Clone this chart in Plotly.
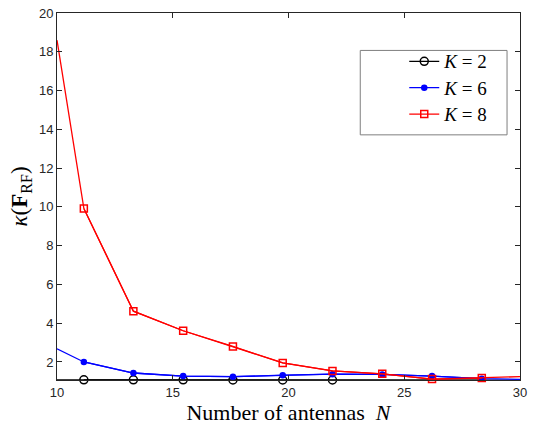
import plotly.graph_objects as go

# Data
N_line = [10, 11.16, 13.3, 15.45, 17.6, 19.75, 21.9, 24.05, 26.2, 28.35, 30]
N_mark = [11.16, 13.3, 15.45, 17.6, 19.75, 21.9, 24.05, 26.2, 28.35]

k2 = [1.08, 1.08, 1.08, 1.08, 1.07, 1.07, 1.07, 1.05, 1.05, 1.05, 1.06]
k6 = [2.68, 2.0, 1.43, 1.27, 1.24, 1.32, 1.37, 1.36, 1.27, 1.14, 1.1]
k8 = [18.6, 9.92, 4.62, 3.61, 2.8, 1.95, 1.54, 1.39, 1.12, 1.17, 1.24]

names = ["<i>K</i> = 2", "<i>K</i> = 6", "<i>K</i> = 8"]
colors = ["#000000", "#0000ff", "#ff0000"]
symbols = ["circle-open", "circle", "square-open"]
sizes = [8, 5, 7]

x_ticks = [10, 15, 20, 25, 30]
y_ticks = [2, 4, 6, 8, 10, 12, 14, 16, 18, 20]

fig = go.Figure()
for vals, name, col, sym, sz in zip([k2, k6, k8], names, colors, symbols, sizes):
    # full line (no markers at endpoints)
    fig.add_trace(go.Scatter(x=N_line, y=vals, mode="lines",
                             line=dict(color=col, width=1.3),
                             showlegend=False, hoverinfo="skip"))
    fig.add_trace(go.Scatter(x=N_mark, y=vals[1:-1], mode="lines+markers",
                             name='<span style="font-size:19px">' + name + '</span>',
                             line=dict(color=col, width=1.3),
                             marker=dict(symbol=sym, size=sz, color=col,
                                         line=dict(color=col, width=1.5)),
                             cliponaxis=False))

axis_common = dict(showline=True, linecolor="#262626", linewidth=1, mirror="allticks",
                   ticks="inside", ticklen=5, tickcolor="#262626", showgrid=False,
                   zeroline=False, ticklabeloverflow="allow",
                   tickfont=dict(family="Liberation Sans, Arial", size=13, color="#262626"))

fig.update_layout(
    width=533, height=426,
    margin=dict(l=57, r=6, t=6, b=46),
    paper_bgcolor="white", plot_bgcolor="white",
    xaxis=dict(range=[10, 30], tickvals=x_ticks,
               title=dict(text="Number of antennas  <i>N</i>", standoff=0,
                          font=dict(family="Liberation Serif, Times New Roman", size=22, color="#000")),
               **axis_common),
    yaxis=dict(range=[1.07, 20], tickvals=y_ticks,
               title=dict(text="<i>κ</i>(<b>F</b><sub>RF</sub>)", standoff=4,
                          font=dict(family="Liberation Serif, Times New Roman", size=23, color="#000")),
               **axis_common),
    legend=dict(x=0.75, y=0.918, xanchor="left", yanchor="top",
                borderwidth=0, bgcolor="rgba(0,0,0,0)",
                font=dict(family="Liberation Serif, Times New Roman", size=18, color="#000"),
                itemwidth=30),
    shapes=[dict(type="rect", xref="paper", yref="paper",
                 x0=0.655, x1=0.972, y0=0.668, y1=0.898,
                 line=dict(color="#7f7f7f", width=1), fillcolor="white", layer="below")],
)

fig.write_html("out.html", config={"displayModeBar": False},
               post_script="document.body.style.margin='0';")
